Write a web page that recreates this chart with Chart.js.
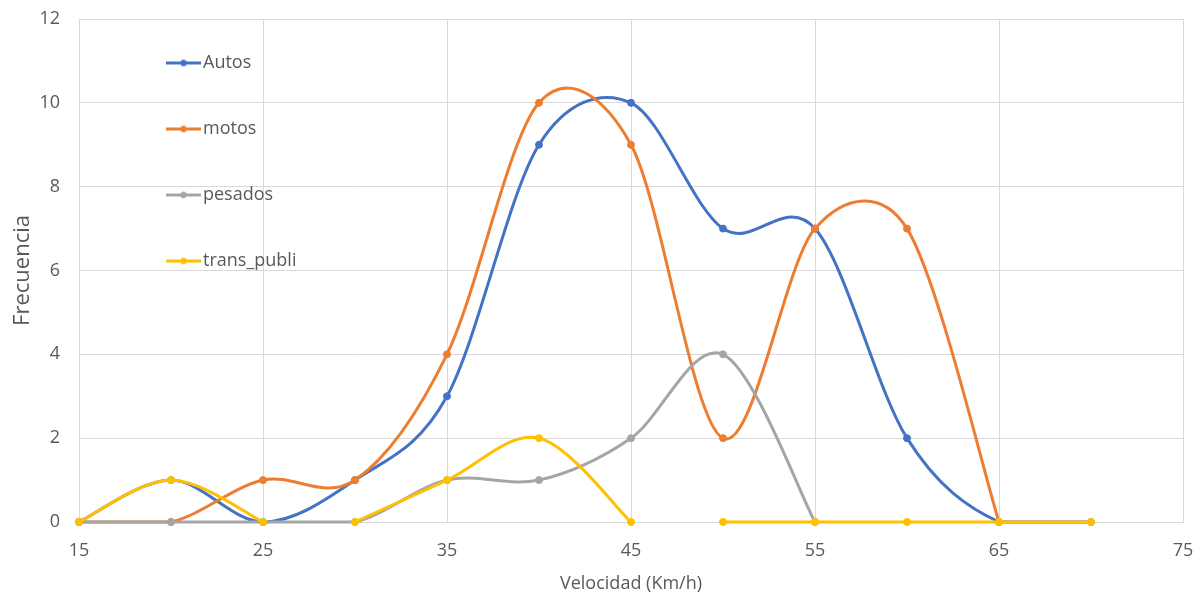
<!DOCTYPE html>
<html lang="es">
<head>
<meta charset="utf-8">
<title>Frecuencia por velocidad</title>
<script src="https://cdn.jsdelivr.net/npm/chart.js@4.4.1/dist/chart.umd.min.js"></script>
<style>
  html, body { margin: 0; padding: 0; background: #fff; }
  .chart-wrap { position: relative; width: 1200px; height: 599px; }
</style>
</head>
<body>
<div class="chart-wrap"><canvas id="speedChart"></canvas></div>
<script>
// Frecuencia por velocidad y tipo de vehículo
const velocidad = [15, 20, 25, 30, 35, 40, 45, 50, 55, 60, 65, 70];
const autos = [0, 1, 0, 1, 3, 9, 10, 7, 7, 2, 0, 0];
const motos = [0, 0, 1, 1, 4, 10, 9, 2, 7, 7, 0, null];
const pesados = [0, 0, 0, 0, 1, 1, 2, 4, 0, null, null, null];
const transPubli = [0, 1, 0, 0, 1, 2, 0, 0, 0, 0, 0, 0];
// trans_publi has empty rows after these speeds, the line is cut there
const transPubliCortes = [25, 45];

const xTicks = [15, 25, 35, 45, 55, 65, 75];
const yTicks = [0, 2, 4, 6, 8, 10, 12];

const COLORS = {
    autos: '#4472C4',
    motos: '#ED7D31',
    pesados: '#A5A5A5',
    trans: '#FFC000'
};
const TEXT = '#595959';
const GRID = '#d9d9d9';
const FONT = "'Open Sans', sans-serif";

function toPoints(values, cuts = []) {
    const pts = [];
    values.forEach((v, i) => {
        pts.push({ x: velocidad[i], y: v });
        if (cuts.includes(velocidad[i])) pts.push({ x: velocidad[i], y: null });
    });
    return pts;
}

function serie(label, values, color, order, cuts) {
    return {
        label,
        data: toPoints(values, cuts),
        borderColor: color,
        backgroundColor: color,
        borderWidth: 3,
        pointRadius: 3.5,
        pointBorderWidth: 1,
        pointBorderColor: color,
        pointBackgroundColor: color,
        tension: 0.4,
        spanGaps: false,
        clip: false,
        order
    };
}

// small line + dot swatch for the legend
function legendMark(color) {
    const c = document.createElement('canvas');
    c.width = 35;
    c.height = 9;
    const g = c.getContext('2d');
    g.strokeStyle = color;
    g.lineWidth = 3;
    g.beginPath();
    g.moveTo(0, 4.5);
    g.lineTo(35, 4.5);
    g.stroke();
    g.fillStyle = color;
    g.beginPath();
    g.arc(17.5, 4.5, 3.2, 0, Math.PI * 2);
    g.fill();
    return c;
}

// put the legend block inside the plot, upper left
const legendInPlot = {
    id: 'legendInPlot',
    afterLayout(chart) {
        const lg = chart.legend;
        const pad = lg.options.labels.padding;
        const half = lg.options.labels.font.size / 2;
        lg.left = chart.chartArea.left + 94 - pad;
        lg.top = chart.chartArea.top + 44 - half - pad;
        lg.bottom = chart.chartArea.bottom;
    }
};

// office-style smoothing: tangent = (next - prev) / 6, handle never longer
// than half the segment it belongs to, control points kept inside the plot
const smoothLines = {
    id: 'smoothLines',
    beforeDatasetsDraw(chart) {
        const area = chart.chartArea;
        const clampX = v => Math.min(Math.max(v, area.left), area.right);
        const clampY = v => Math.min(Math.max(v, area.top), area.bottom);
        chart.data.datasets.forEach((ds, di) => {
            const line = chart.getDatasetMeta(di).dataset;
            if (!line) return;
            line.updateControlPoints(area, 'x');
            const pts = line.points;
            pts.forEach((p, i) => {
                if (p.skip) return;
                const prev = i > 0 && !pts[i - 1].skip ? pts[i - 1] : p;
                const next = i < pts.length - 1 && !pts[i + 1].skip ? pts[i + 1] : p;
                const tx = (next.x - prev.x) / 6;
                const ty = (next.y - prev.y) / 6;
                const len = Math.hypot(tx, ty);
                const dIn = Math.hypot(p.x - prev.x, p.y - prev.y);
                const dOut = Math.hypot(next.x - p.x, next.y - p.y);
                const sIn = len > dIn / 2 && len > 0 ? dIn / 2 / len : 1;
                const sOut = len > dOut / 2 && len > 0 ? dOut / 2 / len : 1;
                p.cp1x = clampX(p.x - tx * sIn);
                p.cp1y = clampY(p.y - ty * sIn);
                p.cp2x = clampX(p.x + tx * sOut);
                p.cp2y = clampY(p.y + ty * sOut);
            });
            line._path = undefined;
        });
    }
};

const ctx = document.getElementById('speedChart').getContext('2d');
new Chart(ctx, {
    type: 'line',
    data: {
        datasets: [
            serie('Autos', autos, COLORS.autos, 3),
            serie('motos', motos, COLORS.motos, 2),
            serie('pesados', pesados, COLORS.pesados, 1),
            serie('trans_publi', transPubli, COLORS.trans, 0, transPubliCortes)
        ]
    },
    options: {
        responsive: true,
        maintainAspectRatio: false,
        animation: false,
        layout: { padding: { top: 19, right: 17, bottom: 0, left: 0 } },
        plugins: {
            tooltip: { enabled: false },
            legend: {
                position: 'chartArea',
                align: 'start',
                labels: {
                    usePointStyle: true,
                    pointStyleWidth: 21,
                    padding: 48,
                    color: TEXT,
                    font: { family: FONT, size: 18 },
                    sort: (a, b) => a.datasetIndex - b.datasetIndex,
                    generateLabels(chart) {
                        const items = Chart.defaults.plugins.legend.labels.generateLabels(chart);
                        items.forEach(it => {
                            it.pointStyle = legendMark(chart.data.datasets[it.datasetIndex].borderColor);
                        });
                        return items;
                    }
                }
            }
        },
        scales: {
            x: {
                type: 'linear',
                min: xTicks[0],
                max: xTicks[xTicks.length - 1],
                afterBuildTicks: axis => { axis.ticks = xTicks.map(v => ({ value: v })); },
                afterFit: axis => {
                    axis.height = 77;
                    axis.paddingLeft = 0;
                    axis.paddingRight = 0;
                },
                grid: { color: GRID, lineWidth: 1, drawTicks: false },
                border: { color: GRID },
                ticks: {
                    color: TEXT,
                    padding: 18,
                    maxRotation: 0,
                    font: { family: FONT, size: 18 }
                },
                title: {
                    display: true,
                    text: 'Velocidad (Km/h)',
                    color: TEXT,
                    font: { family: FONT, size: 18 },
                    padding: { top: 0, bottom: 4 }
                }
            },
            y: {
                min: yTicks[0],
                max: yTicks[yTicks.length - 1],
                afterBuildTicks: axis => { axis.ticks = yTicks.map(v => ({ value: v })); },
                afterFit: axis => {
                    axis.width = 79;
                    axis.paddingTop = 0;
                    axis.paddingBottom = 0;
                },
                grid: { color: GRID, lineWidth: 1, drawTicks: false },
                border: { color: GRID },
                ticks: {
                    color: TEXT,
                    padding: 19,
                    font: { family: FONT, size: 18 }
                },
                title: {
                    display: true,
                    text: 'Frecuencia',
                    color: TEXT,
                    font: { family: FONT, size: 22 },
                    padding: { top: 10, bottom: 0 }
                }
            }
        }
    },
    plugins: [legendInPlot, smoothLines]
});
</script>
</body>
</html>
